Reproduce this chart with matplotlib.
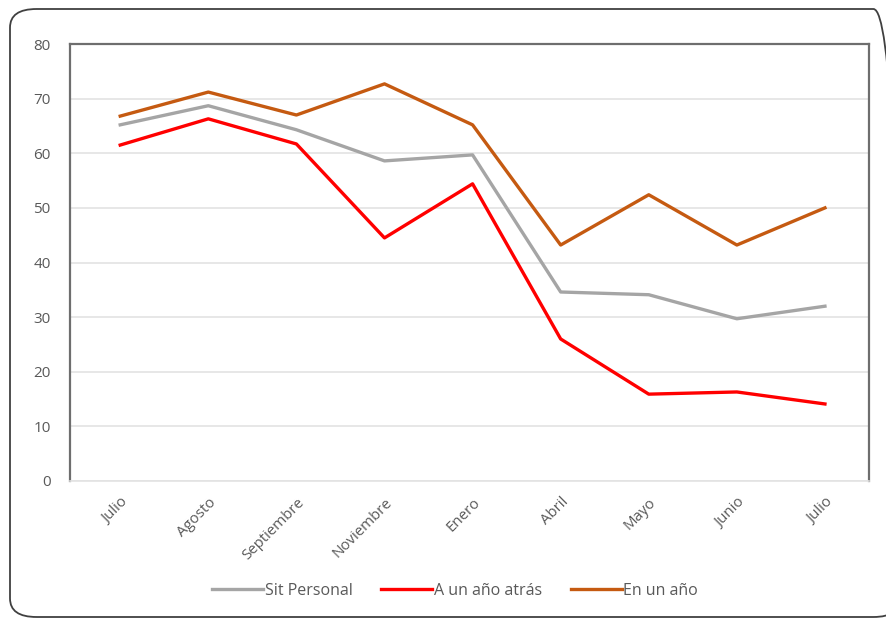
import matplotlib.pyplot as plt
from matplotlib.patches import FancyBboxPatch

months = ["Julio", "Agosto", "Septiembre", "Noviembre", "Enero",
          "Abril", "Mayo", "Junio", "Julio"]
sit_personal = [65.2, 68.7, 64.3, 58.6, 59.7, 34.6, 34.1, 29.7, 32.0]
un_ano_atras = [61.5, 66.3, 61.7, 44.5, 54.4, 26.0, 15.9, 16.3, 14.1]
en_un_ano = [66.8, 71.2, 67.0, 72.7, 65.2, 43.2, 52.4, 43.2, 50.0]

plt.rcParams['font.family'] = ['Open Sans', 'DejaVu Sans']
text_color = "#595959"

fig = plt.figure(figsize=(8.86, 6.18), dpi=100)

# outer rounded frame
frame = FancyBboxPatch((10 / 886, 1 / 618), 890 / 886, 608 / 618,
                       boxstyle="round,pad=0,rounding_size=0.03",
                       transform=fig.transFigure, fill=False,
                       edgecolor="#404040", linewidth=1.3, clip_on=False)
fig.patches.append(frame)

ax = fig.add_axes([70 / 886, 1 - 481 / 618, 799 / 886, 437 / 618])
x = list(range(len(months)))
ax.plot(x, sit_personal, color="#A5A5A5", lw=2.4, label="Sit Personal")
ax.plot(x, un_ano_atras, color="#FF0000", lw=2.4, label="A un año atrás")
ax.plot(x, en_un_ano, color="#C55A11", lw=2.4, label="En un año")

ax.set_ylim(0, 80)
ax.set_xlim(-0.57, 8.5)
ax.set_yticks(range(0, 81, 10))
ax.yaxis.grid(True, color="#E3E3E3", lw=1.2)
ax.set_axisbelow(True)
ax.set_xticks(x)
ax.set_xticklabels(months, rotation=45, ha="right", rotation_mode="anchor",
                   color=text_color, fontsize=10.8)
ax.tick_params(axis="y", labelcolor=text_color, labelsize=11, length=0, pad=14)
ax.tick_params(axis="x", length=0, pad=10)

for side in ["top", "left", "right"]:
    ax.spines[side].set_color("#6E6E6E")
    ax.spines[side].set_linewidth(1.6)
ax.spines["bottom"].set_color("#E3E3E3")
ax.spines["bottom"].set_linewidth(1.2)

fig.legend(loc="center", bbox_to_anchor=(455 / 886, 1 - 591 / 618), ncol=3,
           frameon=False, fontsize=11.5, labelcolor=text_color,
           handlelength=3.2, handletextpad=0.1, columnspacing=1.8)

fig.savefig("out.png", dpi=100)
